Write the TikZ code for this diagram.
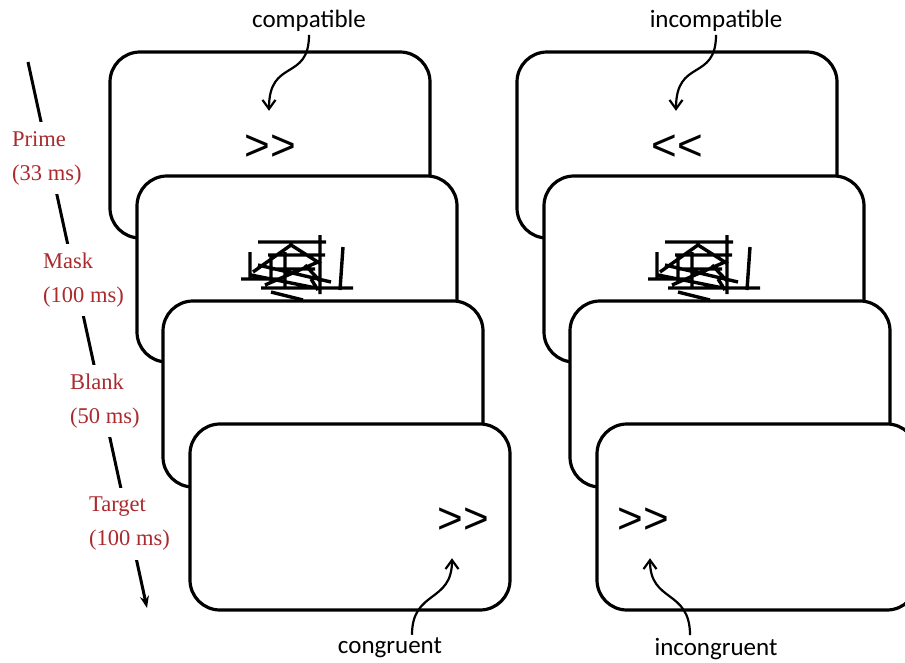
\documentclass[tikz,border=0pt]{standalone}
\usepackage{fontspec}
\usepackage{tikz}
\usetikzlibrary{arrows.meta,positioning}
\newfontfamily\calibri{Carlito}
\newfontfamily\arialface{Liberation Sans}
\newfontfamily\serifface{Liberation Serif}
\definecolor{phasered}{HTML}{AA2A2E}

\newcommand{\scrawl}{%
  \draw[scribble] (-39,-27) -- (29,-27) (23,-34) -- (23,25) (46,-22) -- (43,21)
    (-47,-17) -- (-47,10) (-56,10) -- (-16,10) (-36,19) -- (56,19) (-26,23) -- (6,31)
    (-44,3) -- (-6,-24) -- (24,-5) (-29,-14) -- (28,-14) (-46,6) -- (24,20)
    (-32,16) -- (21,-7) (-12,-17) -- (-12,20) (-26,-14) -- (-26,13) (-39,-4) -- (34,13)
    (8,-4) -- (24,13) (-26,0) -- (18,0) (14,10) -- (21,21);}

\begin{document}
\begin{tikzpicture}[x=1pt,y=-1pt,
    card/.style={draw,fill=white,line width=3.2pt,rounded corners=30pt,
      minimum width=320pt,minimum height=186pt},
    stim/.style={font=\arialface\fontsize{44}{50}\selectfont,inner sep=0pt,minimum height=74pt},
    note/.style={font=\calibri\fontsize{25}{29}\selectfont,inner sep=3pt},
    phase/.style={text=phasered,fill=white,align=left,anchor=west,inner xsep=0pt,
      inner ysep=9pt,font=\serifface\fontsize{22.5}{34}\selectfont},
    curvy/.style={line width=2.2pt,-{Straight Barb[length=9pt,width=13pt]}},
    scribble/.style={line width=3.4pt}]
    \clip (0,0) rectangle (905,662);

    % time line
    \coordinate (t0) at (28,62);
    \coordinate (t1) at (147,608);
    \draw[line width=3pt,-{Stealth[length=12pt,width=9pt]}] (t0) -- (t1);
    \path
    (12,158) node[phase] (prime) {Prime\\(33 ms)}
    (43,280) node[phase] (mask) {Mask\\(100 ms)}
    (70,401) node[phase] (blank) {Blank\\(50 ms)}
    (89,524) node[phase] (target) {Target\\(100 ms)}
    ;

    % compatible / congruent
    \path
    (270,145) node[card] (l1) {}
    (270,148) node[stim] (lprime) {>\kern0pt>}
    ;
    \path (297,269) node[card] (l2) {};
    \begin{scope}[shift={(l2.center)}]
      \scrawl
    \end{scope}
    \path (323,394) node[card] (l3) {};
    \path
    (350,517) node[card] (l4) {}
    (463,521) node[stim] (ltarget) {>\kern0pt>}
    ;

    % incompatible / incongruent
    \path
    (677,145) node[card] (r1) {}
    (677,148) node[stim] (rprime) {<\kern0pt<}
    ;
    \path (704,269) node[card] (r2) {};
    \begin{scope}[shift={(r2.center)}]
      \scrawl
    \end{scope}
    \path (730,394) node[card] (r3) {};
    \path
    (757,517) node[card] (r4) {}
    (643,521) node[stim] (rtarget) {>\kern0pt>}
    ;

    % labels
    \path
    (309,21) node[note] (compat) {compatible}
    (716,21) node[note] (incompat) {incompatible}
    (390,648) node[note] (congr) {congruent}
    (716,649) node[note] (incongr) {incongruent}
    ;
    \draw[curvy] (compat.south) .. controls +(0,47) and +(0,-53) .. ([xshift=-1pt]lprime.north);
    \draw[curvy] (incompat.south) .. controls +(0,47) and +(0,-53) .. ([xshift=-1pt]rprime.north);
    \draw[curvy] ([xshift=22pt]congr.north) .. controls +(0,-45) and +(0,45) .. ([xshift=-11pt]ltarget.south);
    \draw[curvy] ([xshift=-26pt]incongr.north) .. controls +(0,-46) and +(0,45) .. ([xshift=7pt]rtarget.south);
\end{tikzpicture}
\end{document}
